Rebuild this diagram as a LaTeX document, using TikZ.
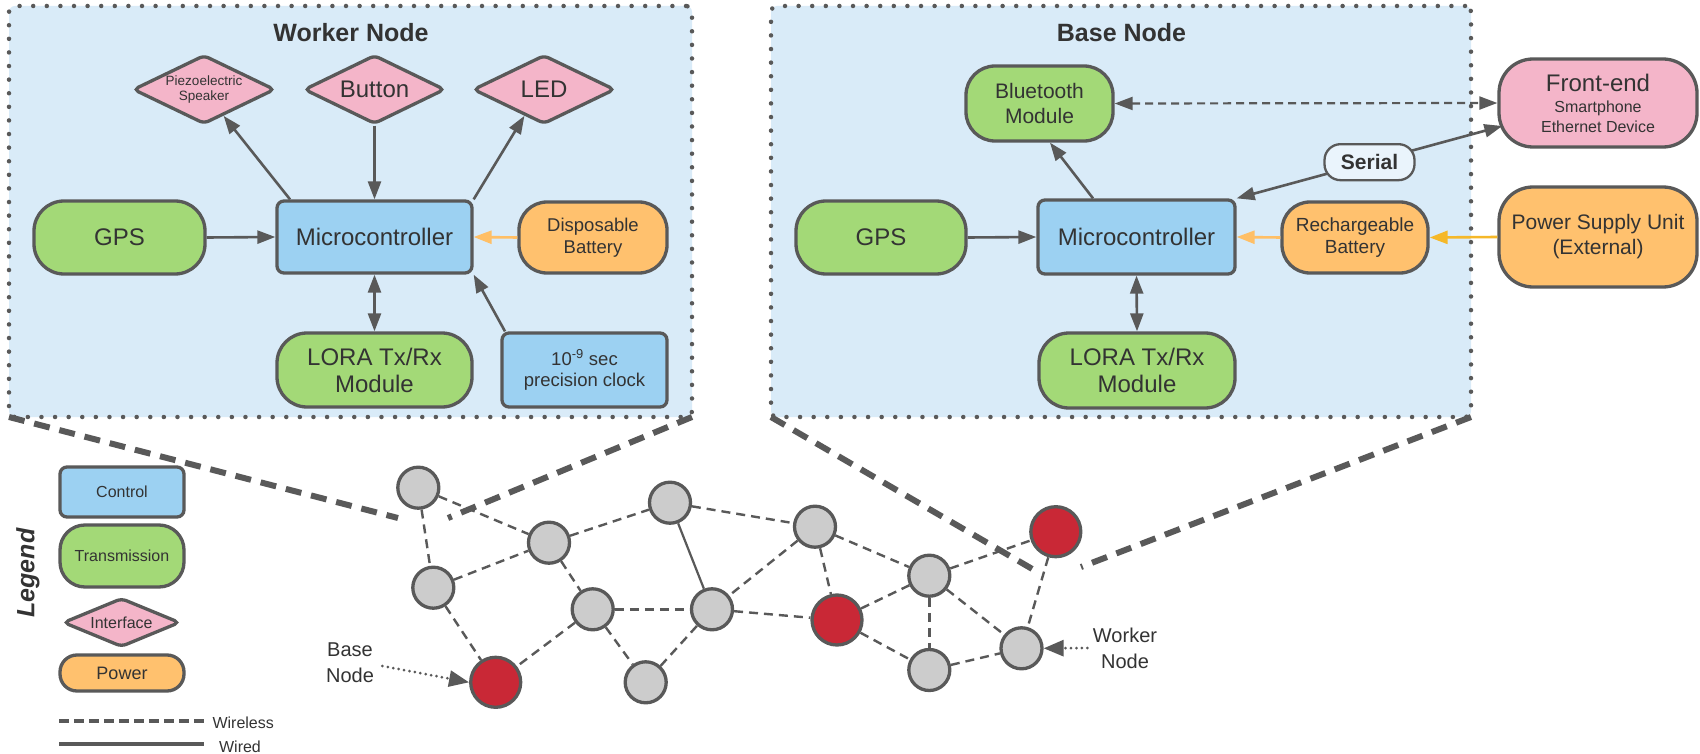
\documentclass[tikz,border=0pt]{standalone}
\usepackage{fontspec}
\setmainfont{Liberation Sans}
\usetikzlibrary{shapes.geometric,arrows.meta,calc}

\definecolor{panelc}{HTML}{D9EBF8}
\definecolor{ctrlc}{HTML}{9CD1F2}
\definecolor{greenc}{HTML}{A3D977}
\definecolor{pinkc}{HTML}{F4B5C9}
\definecolor{orangec}{HTML}{FFC16E}
\definecolor{bordc}{HTML}{595959}
\definecolor{txtc}{HTML}{333333}
\definecolor{lorangec}{HTML}{FFBF66}
\definecolor{yellowc}{HTML}{F5B829}
\definecolor{redc}{HTML}{C92836}
\definecolor{grayc}{HTML}{CCCCCC}
\definecolor{serialc}{HTML}{EAF4FC}

\newcommand{\fsz}[2]{\fontsize{#1}{#2}\selectfont}

\begin{document}
\begin{tikzpicture}[x=1pt,y=-1pt,
  blk/.style={draw=bordc, line width=3.3pt, align=center, text=txtc, inner sep=0pt, rectangle},
  ctrl/.style={blk, fill=ctrlc, rounded corners=7pt},
  trans/.style={blk, fill=greenc, rounded corners=30pt},
  pwr/.style={blk, fill=orangec, rounded corners=28pt},
  iface/.style={blk, fill=pinkc, diamond, aspect=2, rounded corners=5pt},
  panel/.style={fill=panelc, draw=bordc, line width=4.5pt, dash pattern=on 0pt off 13.6pt, line cap=round, rounded corners=6pt, outer sep=0pt, inner sep=0pt},
  title/.style={font=\bfseries\fsz{25}{30}, text=txtc, anchor=base},
  arr/.style={draw=bordc, line width=2.6pt, -{Triangle[length=18pt,width=13pt]}},
  arrboth/.style={draw=bordc, line width=2.6pt, {Triangle[length=18pt,width=13pt]}-{Triangle[length=18pt,width=13pt]}},
  arrdash/.style={arrboth, line width=2.2pt, dash pattern=on 8pt off 5pt},
  arrlo/.style={draw=lorangec, line width=2.6pt, -{Triangle[length=18pt,width=13pt]}},
  arry/.style={draw=yellowc, line width=2.6pt, -{Triangle[length=18pt,width=13pt]}},
  gnode/.style={circle, draw=bordc, line width=3.3pt, fill=grayc, minimum size=41pt, inner sep=0pt},
  rnode/.style={gnode, fill=redc, minimum size=50pt},
  wl/.style={draw=bordc, line width=2.4pt, dash pattern=on 9pt off 6pt},
  wd/.style={draw=bordc, line width=2.2pt},
  zoomln/.style={draw=bordc, line width=6pt, dash pattern=on 16pt off 10pt},
  dotarr/.style={draw=bordc, line width=3pt, dash pattern=on 0pt off 5.5pt, line cap=round, -{Triangle[length=20pt,width=16pt]}},
  lbl/.style={text=txtc, align=center, font=\fsz{20}{26}}
]
\fill[white] (0,0) rectangle (1700,754);
\useasboundingbox (0,0) rectangle (1700,754);

% ---------- panels ----------
\node[panel, minimum width=683pt, minimum height=411pt] (wpanel) at (350.5,211.5) {};
\node[panel, minimum width=700pt, minimum height=411pt] (bpanel) at (1121,211.5) {};
\node[title] (wtitle) at (351,41.7) {Worker Node};
\node[title] (btitle) at (1121.5,41.7) {Base Node};

% ---------- worker node ----------
\node[iface, minimum width=142pt, minimum height=69pt, font=\fsz{13.5}{15.5}] (piezo) at (204,89.5) {Piezoelectric\\Speaker};
\node[iface, minimum width=141pt, minimum height=69pt, font=\fsz{24}{27}] (button) at (374.5,89.5) {Button};
\node[iface, minimum width=142pt, minimum height=69pt, font=\fsz{24}{27}] (led) at (544,89.5) {LED};
\node[trans, minimum width=171pt, minimum height=73pt, font=\fsz{24}{27}] (gpsW) at (119.5,237.5) {GPS};
\node[ctrl, minimum width=195pt, minimum height=72pt, font=\fsz{24}{27}] (mcW) at (374.5,237) {Microcontroller};
\node[pwr, minimum width=148pt, minimum height=71pt, font=\fsz{18.5}{22.5}] (batW) at (593,237.5) {Disposable\\Battery};
\node[trans, minimum width=195pt, minimum height=74pt, font=\fsz{24}{27}] (loraW) at (374.5,370) {LORA Tx/Rx\\Module};
\node[ctrl, minimum width=165pt, minimum height=74pt, font=\fsz{18.5}{21}] (clock) at (584.5,370) {10\textsuperscript{-9} sec\\precision clock};

\draw[arr] ([xshift=-84.5pt]mcW.north) -- ($(piezo.south)!0.27!(piezo.east)$);
\draw[arr] (button.south) -- (mcW.north);
\draw[arr] (mcW.north east) -- ($(led.south)!0.27!(led.west)$);
\draw[arr] (gpsW.east) -- (mcW.west);
\draw[arrlo] (batW.west) -- (mcW.east);
\draw[arrboth] (mcW.south) -- (loraW.north);
\draw[arr] ([xshift=-79.5pt]clock.north) -- (mcW.south east);

% ---------- base node ----------
\node[trans, minimum width=147pt, minimum height=75pt, rounded corners=29pt, font=\fsz{21}{25}] (bt) at (1039.5,103.5) {Bluetooth\\Module};
\node[blk, fill=pinkc, rounded corners=34pt, minimum width=198pt, minimum height=88pt, font=\fsz{16}{19.5}] (fe) at (1598,103) {{\fsz{24}{26}Front-end}\\[2pt]Smartphone\\Ethernet Device};
\node[trans, minimum width=170pt, minimum height=73pt, font=\fsz{24}{27}] (gpsB) at (881,237.5) {GPS};
\node[ctrl, minimum width=197pt, minimum height=74pt, font=\fsz{24}{27}] (mcB) at (1136.5,237) {Microcontroller};
\node[pwr, minimum width=146pt, minimum height=71pt, font=\fsz{19}{22}] (batB) at (1355,237.5) {Rechargeable\\Battery};
\node[pwr, minimum width=198pt, minimum height=100pt, rounded corners=34pt, font=\fsz{21}{25}] (psu) at (1598,237) {Power Supply Unit\\(External)};
\node[trans, minimum width=196pt, minimum height=75pt, font=\fsz{24}{27}] (loraB) at (1137,370.5) {LORA Tx/Rx\\Module};

\draw[arr] ([xshift=-43.5pt]mcB.north) -- ([xshift=10.5pt]bt.south);
\draw[arrdash] (bt.east) -- (fe.west);
\draw[arrboth] (mcB.north east) -- node[blk, line width=2.3pt, fill=serialc, rounded corners=16pt, minimum width=90pt, minimum height=36pt, font=\bfseries\fsz{21}{25}] (serial) {Serial} ([shift={(5pt,-23pt)}]fe.west);
\draw[arr] (gpsB.east) -- (mcB.west);
\draw[arrlo] (batB.west) -- (mcB.east);
\draw[arry] (psu.west) -- (batB.east);
\draw[arrboth] (mcB.south) -- (loraB.north);

% ---------- legend ----------
\node[rotate=90, font=\bfseries\itshape\fsz{25}{30}, text=txtc] (legend) at (28,573) {Legend};
\node[ctrl, minimum width=124pt, minimum height=50pt, font=\fsz{16}{19}] (lctrl) at (122,492) {Control};
\node[trans, minimum width=124pt, minimum height=62pt, rounded corners=25pt, font=\fsz{16}{19}] (ltrans) at (122,556) {Transmission};
\node[iface, minimum width=117pt, minimum height=49pt, font=\fsz{16}{19}] (liface) at (121.5,622.5) {Interface};
\node[pwr, minimum width=124pt, minimum height=36pt, rounded corners=17pt, font=\fsz{18}{21}] (lpwr) at (122,673) {Power};
\coordinate (wl1) at (59,721);
\coordinate (wl2) at (205,721);
\draw[draw=bordc, line width=3.3pt, dash pattern=on 10pt off 5pt] (wl1) -- (wl2);
\node[anchor=west, text=txtc, font=\fsz{16}{19}] (wltxt) at (209,722.5) {Wireless};
\coordinate (wd1) at (59,744);
\coordinate (wd2) at (204,744);
\draw[draw=bordc, line width=3.3pt] (wd1) -- (wd2);
\node[text=txtc, font=\fsz{16}{19}] (wdtxt) at (240,747) {Wired};

% ---------- network ----------
\node[gnode] (n1) at (418.3,487.7) {};
\node[gnode] (n2) at (549,542.7) {};
\node[gnode] (n3) at (670,502.7) {};
\node[gnode] (n4) at (815,526.7) {};
\node[rnode] (n5) at (1055.8,531.7) {};
\node[gnode] (n6) at (433.3,587.7) {};
\node[gnode] (n7) at (592.7,609.3) {};
\node[gnode] (n8) at (712,609.3) {};
\node[rnode] (n9) at (837,620) {};
\node[gnode] (n10) at (929.3,575.7) {};
\node[rnode] (n11) at (495.7,682.3) {};
\node[gnode] (n12) at (645.7,682.3) {};
\node[gnode] (n13) at (929.3,670) {};
\node[gnode] (n14) at (1021.5,648.3) {};

\draw[wl] (n1) -- (n2);
\draw[wl] (n1) -- (n6);
\draw[wl] (n6) -- (n2);
\draw[wl] (n6) -- (n11);
\draw[wl] (n2) -- (n3);
\draw[wl] (n2) -- (n7);
\draw[wd] (n3) -- (n8);
\draw[wl] (n3) -- (n4);
\draw[wl] (n7) -- (n8);
\draw[wl] (n7) -- (n11);
\draw[wl] (n7) -- (n12);
\draw[wl] (n12) -- (n8);
\draw[wl] (n4) -- (n8);
\draw[wl] (n4) -- (n9);
\draw[wl] (n4) -- (n10);
\draw[wl] (n8) -- (n9);
\draw[wl] (n9) -- (n10);
\draw[wl] (n9) -- (n13);
\draw[wl] (n10) -- (n5);
\draw[wl] (n10) -- (n13);
\draw[wl] (n10) -- (n14);
\draw[wl] (n13) -- (n14);
\draw[wl] (n5) -- (n14);

% zoom-out lines
\coordinate (wz1) at (398,518);
\coordinate (wz2) at (448,518);
\coordinate (bz1) at (1034,570);
\coordinate (bz2) at (1081,567);
\draw[zoomln] (wpanel.south west) -- (wz1);
\draw[zoomln] (wpanel.south east) -- (wz2);
\draw[zoomln] (bpanel.south west) -- (bz1);
\draw[zoomln] (bpanel.south east) -- (bz2);

% labels
\node[lbl] (baselbl) at (350,663) {Base\\Node};
\node[lbl] (worklbl) at (1125,648) {Worker\\Node};
\draw[dotarr] ([xshift=5pt,yshift=-3pt]baselbl.east) -- (n11.west);
\draw[dotarr] ([xshift=-2pt]worklbl.west) -- (n14.east);
\end{tikzpicture}
\end{document}
